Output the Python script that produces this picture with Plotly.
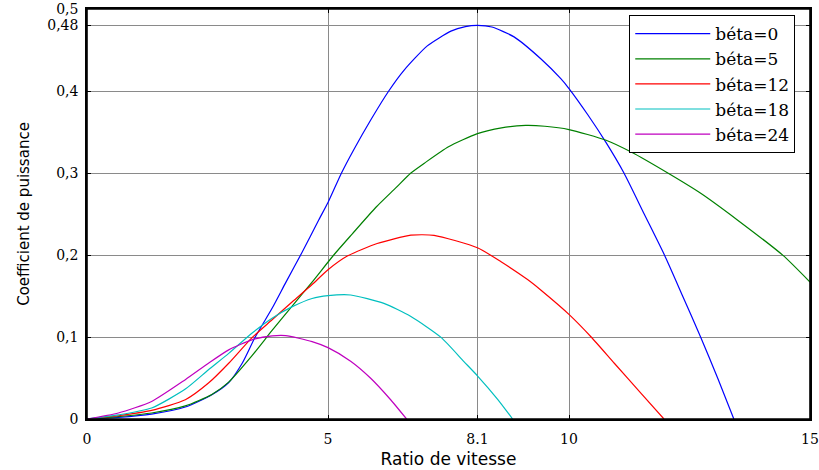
import plotly.graph_objects as go

# ---- data ----
names = ["béta=0", "béta=5", "béta=12", "béta=18", "béta=24"]
colors = ["#0000ff", "#008000", "#ff0000", "#00bfbf", "#bf00bf"]

x_b0 = [0, 0.65, 1.34, 2.04, 2.59, 2.94, 3.22, 3.49, 3.84, 4.12, 4.46, 4.81, 5.0, 5.28, 5.54, 5.88,
        6.26, 6.58, 7.06, 7.55, 7.85, 8.1, 8.4, 8.86, 9.42, 9.83, 10.0, 10.39, 10.77, 11.14, 11.56,
        11.98, 12.35, 12.73, 13.09, 13.42]
y_b0 = [0, 0.002, 0.006, 0.0146, 0.0296, 0.0445, 0.068, 0.1, 0.135, 0.166, 0.203, 0.243, 0.264,
        0.30, 0.329, 0.364, 0.40, 0.4255, 0.455, 0.473, 0.4785, 0.48, 0.478, 0.466, 0.439, 0.415,
        0.403, 0.371, 0.337, 0.30, 0.25, 0.20, 0.151, 0.10, 0.049, 0.0]

x_b5 = [0, 0.65, 1.34, 2.04, 2.59, 2.94, 3.42, 3.84, 4.26, 4.67, 5.12, 5.5, 6.0, 6.4, 6.72, 7.0,
        7.5, 8.1, 8.6, 9.1, 9.5, 10.0, 10.77, 11.29, 12.05, 12.74, 13.5, 14.44, 15.0]
y_b5 = [0, 0.003, 0.0073, 0.016, 0.03, 0.045, 0.077, 0.108, 0.138, 0.167, 0.2, 0.2255, 0.2585,
        0.2815, 0.30, 0.312, 0.332, 0.348, 0.355, 0.358, 0.357, 0.353, 0.34, 0.3256, 0.30, 0.275,
        0.2425, 0.1995, 0.167]

x_b12 = [0, 0.65, 1.34, 2.04, 2.52, 2.94, 3.42, 3.84, 4.26, 4.67, 5.0, 5.4, 6.02, 6.72, 7.2, 8.1,
         8.59, 9.14, 9.42, 10.01, 10.46, 10.94, 11.5, 11.97]
y_b12 = [0, 0.004, 0.0105, 0.0235, 0.0438, 0.068, 0.099, 0.121, 0.143, 0.164, 0.182, 0.1987,
         0.214, 0.2242, 0.224, 0.2088, 0.1918, 0.170, 0.157, 0.127, 0.10, 0.068, 0.031, 0.0]

x_b18 = [0, 0.65, 1.34, 2.04, 2.52, 2.94, 3.42, 3.84, 4.26, 4.67, 5.0, 5.47, 6.16, 6.72, 7.34,
         7.82, 8.1, 8.52, 8.83]
y_b18 = [0, 0.005, 0.0134, 0.0365, 0.06, 0.080, 0.1046, 0.123, 0.137, 0.147, 0.1504, 0.1512,
         0.141, 0.125, 0.0998, 0.07, 0.0527, 0.024, 0.0]

x_b24 = [0, 0.65, 1.34, 2.04, 2.52, 2.94, 3.42, 3.84, 4.12, 4.67, 5.0, 5.47, 5.88, 6.3, 6.63]
y_b24 = [0, 0.0073, 0.0214, 0.048, 0.068, 0.0843, 0.0965, 0.1013, 0.1017, 0.0944, 0.087, 0.0705,
         0.050, 0.0235, 0.0]

x_tickvals = [0, 5, 8.1, 10, 15]
x_ticktext = ["0", "5", "8.1", "10", "15"]
y_tickvals = [0, 0.1, 0.2, 0.3, 0.4, 0.48, 0.5]
y_ticktext = ["0", "0,1", "0,2", "0,3", "0,4", "0,48", "0,5"]

xs = [x_b0, x_b5, x_b12, x_b18, x_b24]
ys = [y_b0, y_b5, y_b12, y_b18, y_b24]

fig = go.Figure()
for n, c, x, y in zip(names, colors, xs, ys):
    fig.add_trace(go.Scatter(x=x, y=y, name=n, mode="lines",
                             line=dict(color=c, width=1.2, shape="spline", smoothing=0.6)))

axis_common = dict(showline=True, linecolor="black", linewidth=1.6, mirror="ticks",
                   ticks="inside", ticklen=4, tickcolor="black", automargin=False,
                   ticklabeloverflow="allow",
                   showgrid=True, gridcolor="#8a8a8a", gridwidth=1, zeroline=False,
                   tickfont=dict(family="DejaVu Serif", size=14, color="black"))

fig.update_xaxes(range=[0, 15], tickmode="array", tickvals=x_tickvals, ticktext=x_ticktext,
                 title=dict(text="Ratio de vitesse",
                            font=dict(family="DejaVu Sans", size=17, color="black"), standoff=8),
                 ticklabelstandoff=6, **axis_common)
fig.update_yaxes(range=[0, 0.5], tickmode="array", tickvals=y_tickvals, ticktext=y_ticktext,
                 title=dict(text="Coefficient de puissance",
                            font=dict(family="DejaVu Sans", size=15, color="black"), standoff=14),
                 ticklabelstandoff=4, **axis_common)

# plot frame (box around the axes area)
fig.add_shape(type="rect", xref="paper", yref="paper", x0=0, y0=0, x1=1, y1=1,
              line=dict(color="black", width=1.6), fillcolor="rgba(0,0,0,0)", layer="above")

fig.update_layout(
    width=819, height=470,
    margin=dict(l=87, r=9, t=9, b=51),
    paper_bgcolor="white", plot_bgcolor="white",
    showlegend=True,
    legend=dict(x=0.75, y=0.985, xanchor="left", yanchor="top",
                bgcolor="white", bordercolor="black", borderwidth=1,
                font=dict(family="DejaVu Serif", size=17, color="black"),
                itemwidth=75, tracegroupgap=0),
)

fig.write_html("out.html")
